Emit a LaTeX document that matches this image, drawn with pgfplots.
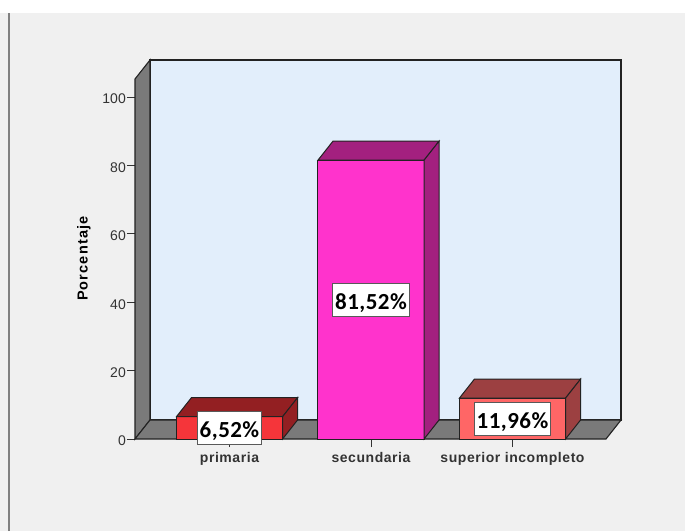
\documentclass[border=0pt]{standalone}
\usepackage{fontspec}
\setmainfont{Liberation Sans}
\newfontfamily\valuefont[LetterSpace=2]{Carlito}
\newfontfamily\catfont[LetterSpace=4]{Liberation Sans}
\newfontfamily\titlefont[LetterSpace=8]{Liberation Sans}
\usepackage{pgfplots}
\pgfplotsset{compat=1.18}
\definecolor{panel}{HTML}{F0F0F0}
\definecolor{wall}{HTML}{7A7A7A}
\definecolor{backwall}{HTML}{E2EEFB}
\definecolor{edge}{HTML}{222222}
\definecolor{redfront}{HTML}{F5353A}
\definecolor{redshade}{HTML}{931F22}
\definecolor{magfront}{HTML}{FF33CC}
\definecolor{magshade}{HTML}{A3207F}
\definecolor{salfront}{HTML}{FF6666}
\definecolor{salshade}{HTML}{9C4041}
\definecolor{ticktext}{HTML}{333333}
% Draws one box: front face from the value, then its top and right side
\newcommand{\threedbar}[4]{%
  \addplot[ybar,bar width=0.75,fill=#3,draw=edge,line width=1pt] coordinates {(#1,#2)};
  \pgfmathsetmacro{\xl}{#1-0.375}\pgfmathsetmacro{\xr}{#1+0.375}
  \pgfmathsetmacro{\xlb}{\xl+0.106}\pgfmathsetmacro{\xrb}{\xr+0.106}
  \pgfmathsetmacro{\vb}{#2+5.56}
  \edef\temp{\noexpand\addplot[fill=#4,draw=edge,line width=1pt] coordinates {(\xl,#2) (\xr,#2) (\xrb,\vb) (\xlb,\vb)} --cycle;}\temp
  \edef\temp{\noexpand\addplot[fill=#4,draw=edge,line width=1pt] coordinates {(\xr,0) (\xr,#2) (\xrb,\vb) (\xrb,5.56)} --cycle;}\temp
}
\begin{document}
\begin{tikzpicture}
\path[use as bounding box] (0pt,0pt) rectangle (685pt,531pt);
\fill[white] (0pt,0pt) rectangle (685pt,531pt);
\fill[panel] (0pt,0pt) rectangle (685pt,518pt);
\draw[color=gray,line width=1.3pt] (9pt,0pt) -- (9pt,518pt);
\begin{axis}[
  at={(135pt,92pt)},anchor=south west,
  scale only axis,width=486pt,height=379pt,
  xmin=-0.6678,xmax=2.7668,ymin=0,ymax=110.82,
  clip=false,
  axis line style={draw=none},
  tick align=outside,tick pos=left,
  major tick length=8pt,
  every tick/.style={color=ticktext,line width=0.9pt},
  xtick={0,1,2},
  xticklabels={primaria,secundaria,superior incompleto},
  ytick={0,20,40,60,80,100},
  /pgf/number format/assume math mode=true,
  xticklabel style={font=\catfont\fontsize{14}{16}\selectfont\bfseries,text=ticktext,inner sep=0pt,yshift=-5pt},
  yticklabel style={font=\fontsize{14}{16}\selectfont,text=ticktext,inner sep=0pt,xshift=-1pt,yshift=-2pt},
  ylabel={Porcentaje},
  every axis y label/.style={at={(axis description cs:-0.105,0.476)},rotate=90,anchor=center,font=\titlefont\fontsize{14.5}{16}\selectfont\bfseries},
]
% back wall
\addplot[fill=backwall,draw=edge,line width=1.1pt] coordinates {(-0.5618,5.56) (2.7668,5.56) (2.7668,110.82) (-0.5618,110.82)} --cycle;
% left wall
\addplot[fill=wall,draw=edge,line width=1.1pt] coordinates {(-0.6678,0) (-0.5618,5.56) (-0.5618,110.82) (-0.6678,105.26)} --cycle;
% floor
\addplot[fill=wall,draw=edge,line width=1.1pt] coordinates {(-0.6678,0) (2.6608,0) (2.7668,5.56) (-0.5618,5.56)} --cycle;
% bars
\threedbar{0}{6.52}{redfront}{redshade}
\threedbar{1}{81.52}{magfront}{magshade}
\threedbar{2}{11.96}{salfront}{salshade}
% value labels, centred halfway up each bar
\addplot[draw=none,mark=none,point meta=explicit symbolic,nodes near coords,
  every node near coord/.append style={anchor=center,fill=white,draw=black!65,line width=0.8pt,
    font=\valuefont\fontsize{23}{26}\selectfont\bfseries,text=black,inner xsep=2.5pt,inner ysep=1pt,
    text height=20pt,text depth=1pt,minimum height=33pt}]
  coordinates {(0,3.26)[6,52\%] (1,40.76)[81,52\%] (2,5.98)[11,96\%]};
\end{axis}
\end{tikzpicture}
\end{document}
